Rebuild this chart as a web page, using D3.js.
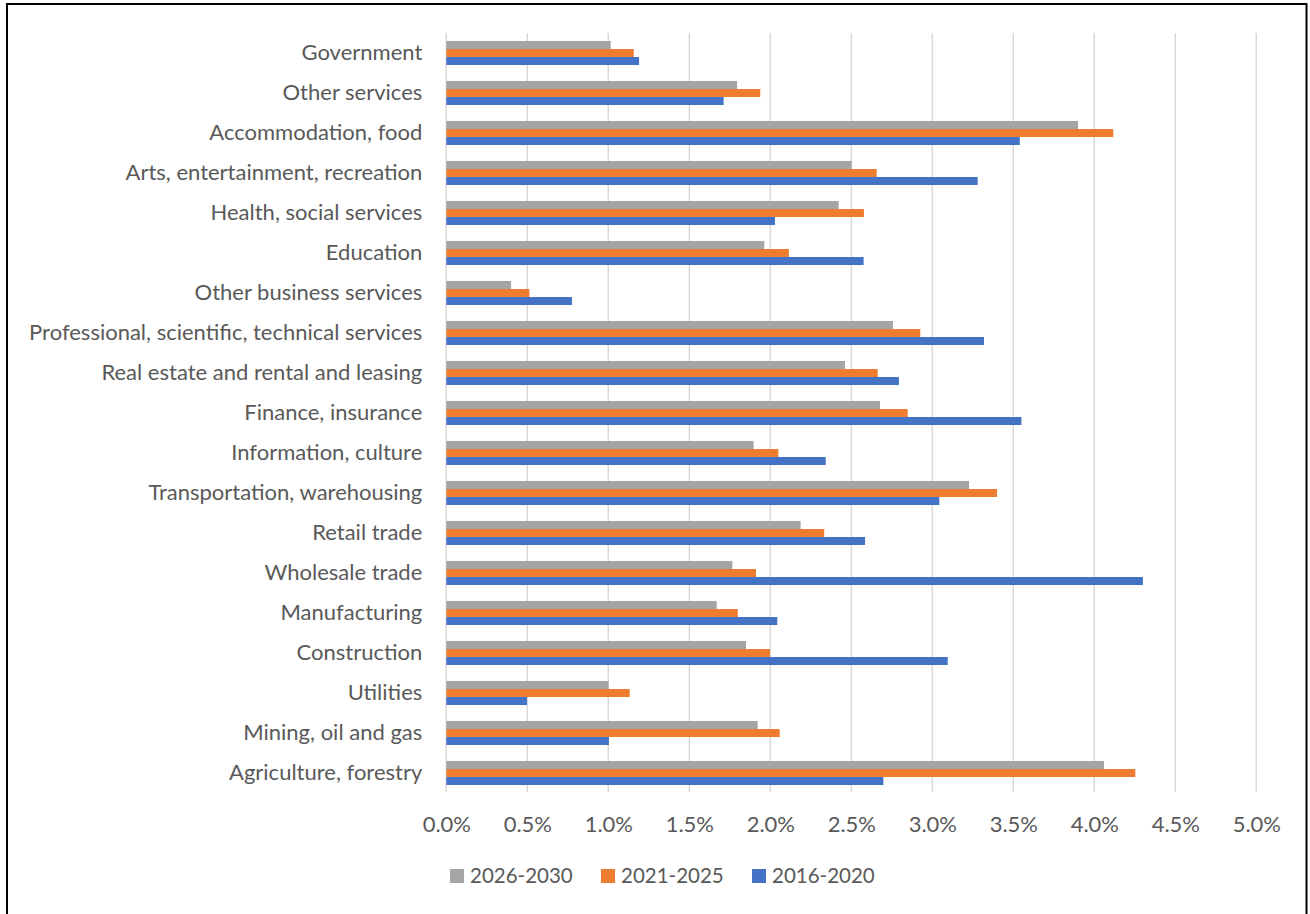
<!DOCTYPE html>
<html><head><meta charset="utf-8">
<script src="https://cdn.jsdelivr.net/npm/d3@7"></script>
<style>body{margin:0;background:#fff}svg{display:block}text{font-family:Lato,"Open Sans",sans-serif;fill:#595959}</style>
</head><body>
<svg id="c" width="1310" height="914"></svg>
<script>
const categories = ["Government","Other services","Accommodation, food","Arts, entertainment, recreation","Health, social services","Education","Other business services","Professional, scientific, technical services","Real estate and rental and leasing ","Finance, insurance","Information, culture","Transportation, warehousing","Retail trade","Wholesale trade","Manufacturing","Construction","Utilities","Mining, oil and gas","Agriculture, forestry"];
const seriesNames = ["2026-2030","2021-2025","2016-2020"];
const seriesColors = ["#A5A5A5","#ED7D31","#4472C4"];
const v2026_2030 = [1.015,1.795,3.90,2.502,2.422,1.963,0.40,2.757,2.461,2.677,1.897,3.227,2.187,1.766,1.669,1.85,1.002,1.922,4.06];
const v2021_2025 = [1.157,1.938,4.117,2.657,2.578,2.115,0.513,2.926,2.663,2.848,2.05,3.40,2.333,1.912,1.799,1.998,1.132,2.058,4.253];
const v2016_2020 = [1.19,1.712,3.54,3.28,2.029,2.576,0.776,3.319,2.794,3.55,2.342,3.043,2.585,4.30,2.043,3.095,0.498,1.004,2.698];
const xTicks = [0,0.5,1,1.5,2,2.5,3,3.5,4,4.5,5];
const seriesValues = [v2026_2030, v2021_2025, v2016_2020];

const svg = d3.select("#c");
const pLeft = 446.3, pRight = 1256.3, pTop = 33, pBottom = 793;
const x = d3.scaleLinear().domain([0,5]).range([pLeft,pRight]);
const y0 = d3.scaleBand().domain(categories).range([pTop,pBottom]).padding(0);
const y1 = d3.scaleBand().domain(seriesNames).range([0,y0.bandwidth()]).paddingOuter(1).paddingInner(0);

// frame
svg.append("rect").attr("x",7).attr("y",4).attr("width",1299.5).attr("height",915)
  .attr("fill","none").attr("stroke","#000").attr("stroke-width",2);

// gridlines
svg.append("g").selectAll("line").data(xTicks).join("line")
  .attr("x1",d=>x(d)).attr("x2",d=>x(d)).attr("y1",pTop).attr("y2",pBottom-1)
  .attr("stroke","#D9D9D9").attr("stroke-width",1.5);

// bars
const g = svg.append("g");
seriesNames.forEach((s,si)=>{
  g.append("g").selectAll("rect").data(categories).join("rect")
    .attr("x",x(0))
    .attr("y",(c)=>y0(c)+y1(s))
    .attr("width",(c,i)=>x(seriesValues[si][i])-x(0))
    .attr("height",y1.bandwidth())
    .attr("fill",seriesColors[si]);
});

// category axis
const yAxis = d3.axisLeft(y0).tickSize(0).tickPadding(24);
const ya = svg.append("g").attr("transform",`translate(${pLeft},0)`).call(yAxis);
ya.select(".domain").remove();
ya.selectAll("text").style("font-size","22px").attr("dy","0.3em").style("fill","#595959").style("font-family","Lato");

// x axis labels
const xAxis = d3.axisBottom(x).tickValues(xTicks).tickSize(0).tickPadding(0).tickFormat(d=>d3.format(".1f")(d)+"%");
const xa = svg.append("g").attr("transform",`translate(0,${pBottom})`).call(xAxis);
xa.select(".domain").remove();
xa.selectAll("text").attr("y",39).attr("dy",0).style("font-size","22px").style("fill","#595959").style("font-family","Lato");

// legend
const legX = [450,601,752];
const lg = svg.append("g");
seriesNames.forEach((s,i)=>{
  lg.append("rect").attr("x",legX[i]).attr("y",869).attr("width",14).attr("height",14).attr("fill",seriesColors[i]);
  lg.append("text").attr("x",legX[i]+20).attr("y",883).text(s).style("font-size","20.5px");
});
</script>
</body></html>
